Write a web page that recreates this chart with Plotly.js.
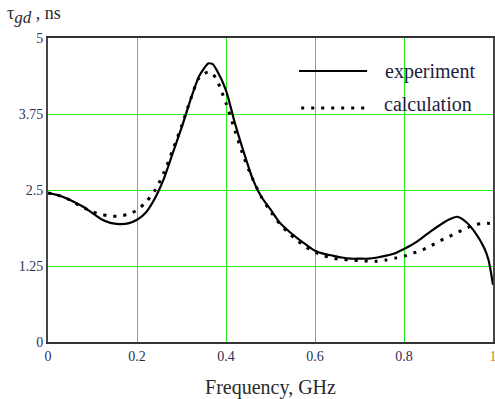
<!DOCTYPE html>
<html>
<head>
<meta charset="utf-8">
<script src="https://cdn.plot.ly/plotly-3.0.1.min.js"></script>
<style>html,body{margin:0;padding:0;background:#fff;}#plot{width:495px;height:399px;}</style>
</head>
<body>
<div id="plot"></div>
<script>
// Frequency (GHz) and group delay (ns)
var expFreq = [0, 0.02, 0.04, 0.06, 0.08, 0.10, 0.12, 0.14, 0.16, 0.18, 0.20, 0.22, 0.24, 0.26, 0.28, 0.30, 0.32, 0.34, 0.36, 0.37, 0.38, 0.40, 0.42, 0.44, 0.46, 0.48, 0.50, 0.52, 0.54, 0.56, 0.58, 0.60, 0.62, 0.64, 0.66, 0.68, 0.70, 0.72, 0.74, 0.76, 0.78, 0.80, 0.82, 0.84, 0.86, 0.88, 0.90, 0.92, 0.94, 0.96, 0.98, 0.99, 1.0];
var expDelay = [2.45, 2.42, 2.37, 2.30, 2.22, 2.12, 2.02, 1.96, 1.94, 1.95, 2.01, 2.13, 2.36, 2.68, 3.10, 3.52, 3.98, 4.38, 4.58, 4.57, 4.46, 4.14, 3.60, 3.12, 2.68, 2.38, 2.18, 1.97, 1.83, 1.71, 1.60, 1.50, 1.45, 1.42, 1.39, 1.37, 1.37, 1.37, 1.39, 1.42, 1.46, 1.53, 1.61, 1.71, 1.82, 1.92, 2.01, 2.06, 1.97, 1.80, 1.55, 1.35, 0.94];

var calcFreq = [0, 0.02, 0.04, 0.06, 0.08, 0.10, 0.12, 0.14, 0.16, 0.18, 0.20, 0.22, 0.24, 0.26, 0.28, 0.30, 0.32, 0.34, 0.36, 0.37, 0.38, 0.39, 0.40, 0.42, 0.44, 0.46, 0.48, 0.50, 0.52, 0.54, 0.56, 0.58, 0.60, 0.62, 0.64, 0.66, 0.68, 0.70, 0.72, 0.74, 0.76, 0.78, 0.80, 0.82, 0.84, 0.86, 0.88, 0.90, 0.92, 0.94, 0.96, 0.98, 1.0];
var calcDelay = [2.45, 2.42, 2.37, 2.29, 2.21, 2.14, 2.10, 2.07, 2.07, 2.10, 2.17, 2.30, 2.49, 2.78, 3.15, 3.55, 3.98, 4.35, 4.44, 4.41, 4.30, 4.12, 3.93, 3.48, 3.04, 2.68, 2.38, 2.15, 1.95, 1.80, 1.67, 1.56, 1.48, 1.42, 1.38, 1.36, 1.35, 1.34, 1.33, 1.33, 1.35, 1.38, 1.41, 1.46, 1.51, 1.58, 1.66, 1.73, 1.80, 1.87, 1.93, 1.95, 1.95];

var xTickVals = [0, 0.2, 0.4, 0.6, 0.8, 1];
var xTickText = ['0', '0.2', '0.4', '0.6', '0.8', '<span style="color:#e07b20">1</span>'];
var yTickVals = [0, 1.25, 2.5, 3.75, 5];
var yTickText = ['0', '1.25', '2.5', '3.75', '5'];

var seriesNames = ['experiment', 'calculation'];
var axisTitleX = 'Frequency, GHz';
var axisTitleY = 'τ<sub><span style="font-size:17px"><i>gd</i></span></sub> , ns';

var serif = "'Liberation Serif', 'Times New Roman', 'DejaVu Serif', serif";
var tickColor = '#2e2e55';

var traces = [
  {x: calcFreq, y: calcDelay, type: 'scatter', mode: 'lines', name: seriesNames[1], showlegend: false,
   line: {color: '#000', width: 3, dash: '3px,7px', shape: 'spline', smoothing: 0.8}, hoverinfo: 'skip'},
  {x: expFreq, y: expDelay, type: 'scatter', mode: 'lines', name: seriesNames[0], showlegend: false,
   line: {color: '#000', width: 2.2, shape: 'spline', smoothing: 0.6}, hoverinfo: 'skip'}
];

var layout = {
  width: 495, height: 399,
  margin: {l: 48, r: 2, t: 38, b: 57},
  paper_bgcolor: '#fff', plot_bgcolor: '#fff',
  font: {family: serif, color: tickColor, size: 14},
  showlegend: false,
  xaxis: {
    range: [0, 1], tickvals: xTickVals, ticktext: xTickText, ticks: '',
    showgrid: true, gridcolor: '#22ee22', gridwidth: 1,
    zeroline: false, showline: true, mirror: true, linecolor: '#333', linewidth: 2,
    tickfont: {family: serif, size: 14, color: tickColor},
    ticklabeloverflow: 'allow',
    title: {text: axisTitleX, font: {family: serif, size: 20, color: '#2a2a2a'}, standoff: 17},
    fixedrange: true
  },
  yaxis: {
    range: [0, 5], tickvals: yTickVals, ticktext: yTickText, ticks: '',
    showgrid: true, gridcolor: '#22ee22', gridwidth: 1,
    zeroline: false, showline: true, mirror: true, linecolor: '#444', linewidth: 2,
    tickfont: {family: serif, size: 14, color: tickColor},
    ticklabelstandoff: 0,
    fixedrange: true
  },
  shapes: [
    {type: 'rect', xref: 'paper', yref: 'paper', x0: 0.555, x1: 0.964, y0: 0.733, y1: 0.951,
     fillcolor: '#fff', line: {width: 0}, layer: 'between'},
    {type: 'line', xref: 'paper', yref: 'paper', x0: 0.564, x1: 0.717, y0: 0.8914, y1: 0.8914,
     line: {color: '#000', width: 2.2}},
    {type: 'line', xref: 'paper', yref: 'paper', x0: 0.569, x1: 0.717, y0: 0.7697, y1: 0.7697,
     line: {color: '#000', width: 3, dash: '3px,7px'}}
  ],
  annotations: [
    {xref: 'paper', yref: 'paper', x: 0.7528, y: 0.8914, xanchor: 'left', yanchor: 'middle', showarrow: false,
     text: seriesNames[0], font: {family: serif, size: 20, color: '#1e1e40'}},
    {xref: 'paper', yref: 'paper', x: 0.7505, y: 0.783, xanchor: 'left', yanchor: 'middle', showarrow: false,
     text: seriesNames[1], font: {family: serif, size: 20, color: '#1e1e40'}},
    {xref: 'paper', yref: 'paper', x: -0.097, y: 1.075, xanchor: 'left', yanchor: 'middle', showarrow: false,
     text: axisTitleY, font: {family: serif, size: 18, color: '#2a2a2a'}}
  ]
};

Plotly.newPlot('plot', traces, layout, {staticPlot: true, displayModeBar: false});
</script>
</body>
</html>
